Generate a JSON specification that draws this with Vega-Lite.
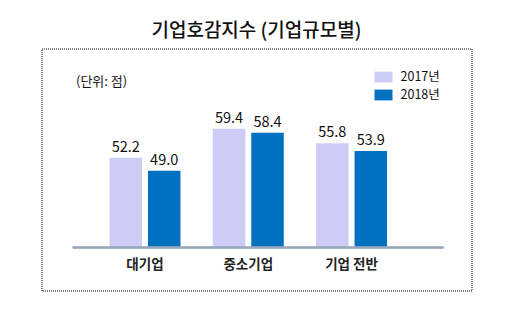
{
  "$schema": "https://vega.github.io/schema/vega-lite/v6.json",
  "autosize": "none",
  "width": 430,
  "height": 242,
  "padding": {"left": 41.5, "top": 48.5, "right": 45.5, "bottom": 33.5},
  "title": {"text": "기업호감지수 (기업규모별)", "fontSize": 19, "font": "Noto Sans CJK KR", "fontWeight": 500, "color": "#111111", "anchor": "middle", "offset": 8},
  "config": {
    "view": {"stroke": "#000000", "strokeDash": [1, 1], "strokeWidth": 1},
    "font": "Noto Sans CJK KR"
  },
  "data": {
    "values": [
      {"group": "대기업", "year": "2017년", "value": 52.2},
      {"group": "대기업", "year": "2018년", "value": 49.0},
      {"group": "중소기업", "year": "2017년", "value": 59.4},
      {"group": "중소기업", "year": "2018년", "value": 58.4},
      {"group": "기업 전반", "year": "2017년", "value": 55.8},
      {"group": "기업 전반", "year": "2018년", "value": 53.9}
    ]
  },
  "encoding": {
    "x": {
      "field": "group", "type": "nominal", "sort": ["대기업", "중소기업", "기업 전반"],
      "scale": {"paddingInner": 0.313, "paddingOuter": 0.738, "align": 0.446},
      "axis": {"title": null, "domain": false, "ticks": false, "labelPadding": 10, "offset": -43, "labelFontSize": 13.5, "labelFontWeight": "bold", "labelColor": "#222222", "labelFont": "Noto Sans CJK KR", "labelAngle": 0}
    },
    "y": {
      "field": "value", "type": "quantitative",
      "scale": {"domain": [19.36, 79.26], "zero": false, "nice": false},
      "axis": {"title": "(단위: 점)", "titleAngle": 0, "titleAlign": "left", "titleBaseline": "middle", "titleX": 34, "titleY": 33, "titleFontSize": 13, "titleFontWeight": "normal", "titleColor": "#111111", "titleFont": "Noto Sans CJK KR", "labels": false, "ticks": false, "domain": false, "grid": false}
    }
  },
  "layer": [
    {
      "mark": {"type": "bar"},
      "encoding": {
        "xOffset": {"field": "year", "type": "nominal", "scale": {"paddingInner": 0.156, "paddingOuter": 0}},
        "y2": {"datum": 30},
        "color": {
          "field": "year", "type": "nominal",
          "scale": {"domain": ["2017년", "2018년"], "range": ["#CCCCF7", "#0070C0"]},
          "legend": {"orient": "none", "legendX": 333, "legendY": 19.5, "title": null, "symbolType": "M-1,-0.6H1V0.6H-1Z", "symbolSize": 324, "symbolStrokeWidth": 0, "labelFontSize": 12.5, "labelOffset": 8, "rowPadding": 2, "padding": 0, "labelFont": "Noto Sans CJK KR", "labelColor": "#111111"}
        }
      }
    },
    {
      "mark": {"type": "text", "dy": -6, "baseline": "alphabetic", "fontSize": 14.5, "color": "#111111", "font": "Noto Sans CJK KR"},
      "encoding": {
        "xOffset": {"field": "year", "type": "nominal", "scale": {"paddingInner": 0.156, "paddingOuter": 0}},
        "text": {"field": "value", "type": "quantitative", "format": ".1f"}
      }
    },
    {
      "mark": {"type": "rule", "color": "#9AA6BB", "strokeWidth": 1.5, "xOffset": -72.2, "x2Offset": 91.8},
      "encoding": {
        "x": {"datum": "대기업", "bandPosition": 0.5},
        "x2": {"datum": "기업 전반", "bandPosition": 0.5},
        "y": {"datum": 30}
      }
    }
  ]
}
